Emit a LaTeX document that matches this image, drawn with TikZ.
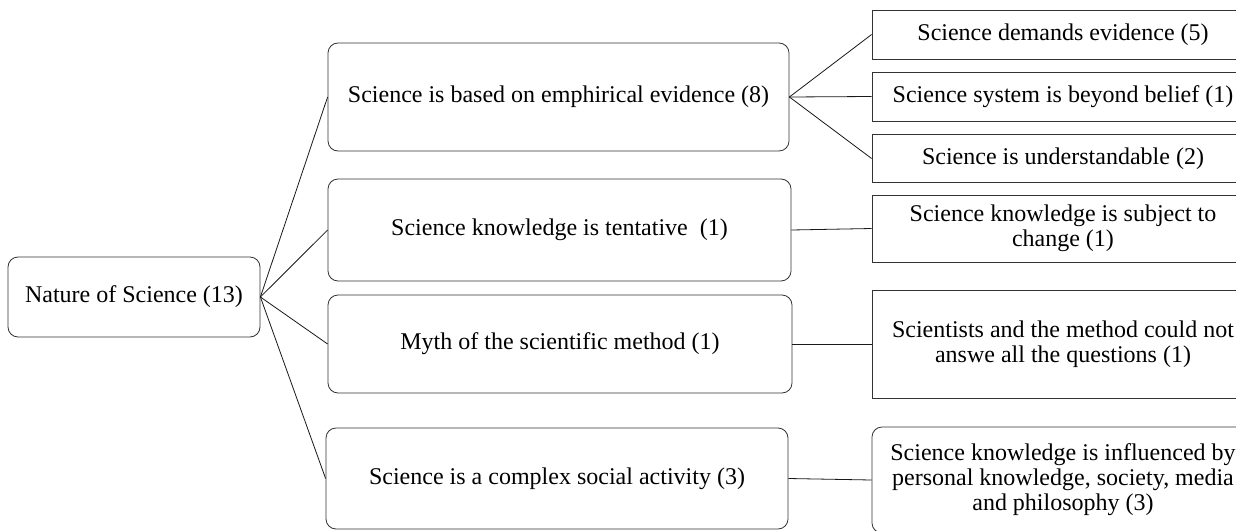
\documentclass[tikz,border=0pt]{standalone}
\usepackage{fontspec}
\setmainfont{Liberation Serif}
\begin{document}
\begin{tikzpicture}[x=1pt,y=-1pt,
  box/.style={draw=black!80, line width=0.8pt, inner sep=0pt, align=center,
    font=\fontsize{24}{25}\selectfont},
  rbox/.style={box, rounded corners=10pt},
  link/.style={draw=black!90, line width=0.8pt}]
\clip (0,0) rectangle (1236,530);
\fill[white] (0,0) rectangle (1236,530);

% root
\node[rbox, minimum width=252pt, minimum height=80pt] (root) at (134,297) {Nature of Science (13)};

% themes
\node[rbox, minimum width=461pt, minimum height=108pt] (b1) at (558.5,97) {Science is based on emphirical evidence (8)};
\node[rbox, minimum width=463pt, minimum height=102pt] (b2) at (559.5,230) {Science knowledge is tentative\ \ (1)};
\node[rbox, minimum width=464pt, minimum height=98pt] (b3) at (560,344) {Myth of the scientific method (1)};
\node[rbox, minimum width=462pt, minimum height=101pt] (b4) at (557,478.5) {Science is a complex social activity (3)};

% sub-themes
\node[box, minimum width=382pt, minimum height=49pt] (r1) at (1063,34.5) {Science demands evidence (5)};
\node[box, minimum width=382pt, minimum height=49pt] (r2) at (1063,96.5) {Science system is beyond belief (1)};
\node[box, minimum width=382pt, minimum height=48pt] (r3) at (1063,158.5) {Science is understandable (2)};
\node[box, minimum width=382pt, minimum height=67pt] (r4) at (1063,228.5) {Science knowledge is subject to\\change (1)};
\node[box, minimum width=382pt, minimum height=108pt] (r5) at (1063,344) {Scientists and the method could not\\answe all the questions (1)};
\node[rbox, minimum width=382pt, minimum height=106pt] (r6) at (1063,480) {Science knowledge is influenced by\\personal knowledge, society, media\\and philosophy (3)};

% connectors
\foreach \t in {b1,b2,b3,b4} \draw[link] (root.east) -- (\t.west);
\foreach \t in {r1,r2,r3} \draw[link] (b1.east) -- (\t.west);
\draw[link] (b2.east) -- (r4.west);
\draw[link] (b3.east) -- (r5.west);
\draw[link] (b4.east) -- (r6.west);
\end{tikzpicture}
\end{document}
